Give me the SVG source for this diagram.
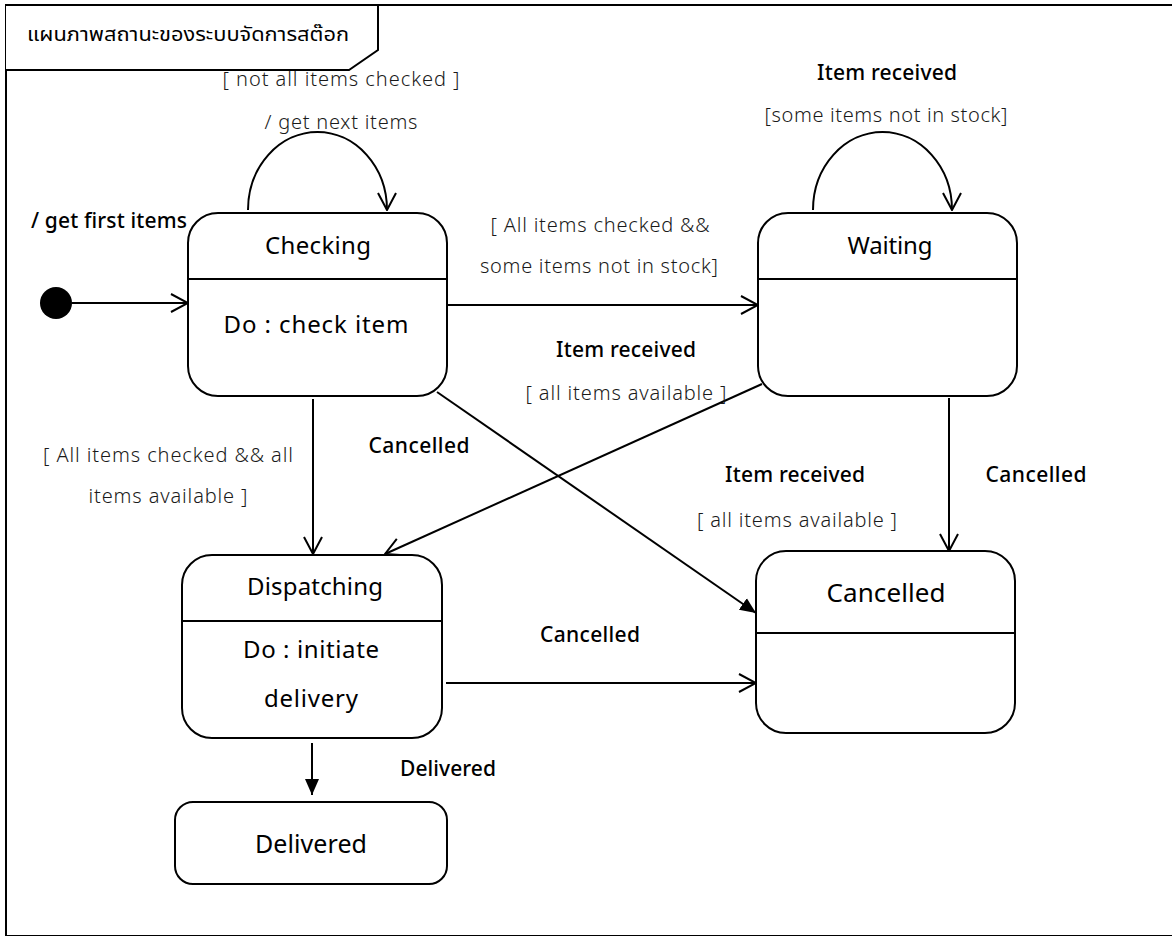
<svg xmlns="http://www.w3.org/2000/svg" width="1172" height="936" viewBox="0 0 1172 936">
<defs>
<marker id="open" viewBox="0 0 20 20" refX="19" refY="10" markerWidth="20" markerHeight="20" markerUnits="userSpaceOnUse" orient="auto">
<path d="M2,1 L19,10 L2,19" fill="none" stroke="#000" stroke-width="2"/>
</marker>
<marker id="filled" viewBox="0 0 16 16" refX="16" refY="8" markerWidth="16" markerHeight="16" markerUnits="userSpaceOnUse" orient="auto">
<path d="M0,1 L16,8 L0,15 z" fill="#000"/>
</marker>
<style>
.box{fill:#fff;stroke:#000;stroke-width:2}
.ln{fill:none;stroke:#000;stroke-width:2}
.t{font-family:"Noto Sans","Open Sans","DejaVu Sans",sans-serif;font-weight:400;fill:#000;text-anchor:middle}
.g{font-family:"Noto Sans","Open Sans","DejaVu Sans",sans-serif;font-weight:300;fill:#1a1a1a;text-anchor:middle;font-size:20px}
.lb{font-size:21px;font-weight:500}
.nt{font-size:24px}
</style>
</defs>
<rect x="6" y="5" width="1180" height="931" fill="#fff" stroke="#000" stroke-width="2"/>
<g id="frame-title">
<path d="M6,5 H378 V50 L349,70 H6" fill="#fff" stroke="#000" stroke-width="2"/>
<text x="27" y="41" font-family="'Noto Sans Thai','Noto Sans','DejaVu Sans',sans-serif" font-size="19" textLength="322" lengthAdjust="spacingAndGlyphs">แผนภาพสถานะของระบบจัดการสต๊อก</text>
</g>
<g id="connectors">
<path class="ln" d="M72,303 H188" marker-end="url(#open)"/>
<path class="ln" d="M248,210 A69.5,78 0 0 1 387,210" marker-end="url(#open)"/>
<path class="ln" d="M813,210 A69.5,78 0 0 1 952,210" marker-end="url(#open)"/>
<path class="ln" d="M447,305 H758" marker-end="url(#open)"/>
<path class="ln" d="M313,399 V554" marker-end="url(#open)"/>
<path class="ln" d="M762,384 L385,554" marker-end="url(#open)"/>
<path class="ln" d="M437,392 L756,613" marker-end="url(#filled)"/>
<path class="ln" d="M949,398 V551" marker-end="url(#open)"/>
<path class="ln" d="M446,683 H756" marker-end="url(#open)"/>
<path class="ln" d="M312,743 V795" marker-end="url(#filled)"/>
</g>
<g id="labels">
<text class="t lb" x="109" y="228" textLength="156">/ get first items</text>
<text class="g" x="341" y="86" textLength="237">[ not all items checked ]</text>
<text class="g" x="341" y="129" textLength="153">/ get next items</text>
<text class="t lb" x="887" y="80" textLength="140">Item received</text>
<text class="g" x="886" y="122" textLength="243">[some items not in stock]</text>
<text class="g" x="600" y="232" textLength="219">[ All items checked &amp;&amp;</text>
<text class="g" x="599" y="273" textLength="238">some items not in stock]</text>
<text class="t lb" x="626" y="357" textLength="140">Item received</text>
<text class="g" x="626" y="400" textLength="201">[ all items available ]</text>
<text class="g" x="168" y="462" textLength="250">[ All items checked &amp;&amp; all</text>
<text class="g" x="168" y="503" textLength="159">items available ]</text>
<text class="t lb" x="419" y="453" textLength="101">Cancelled</text>
<text class="t lb" x="795" y="482" textLength="140">Item received</text>
<text class="g" x="797" y="527" textLength="200">[ all items available ]</text>
<text class="t lb" x="1036" y="482" textLength="101">Cancelled</text>
<text class="t lb" x="590" y="642" textLength="100">Cancelled</text>
<text class="t lb" x="448" y="776" textLength="96">Delivered</text>
</g>
<g id="initial">
<circle cx="56" cy="303" r="16" fill="#000"/>
</g>
<g id="checking">
<rect class="box" x="188" y="213" width="259" height="183" rx="30"/>
<line class="ln" x1="188" y1="279" x2="447" y2="279"/>
<text class="t nt" x="318" y="254" textLength="106">Checking</text>
<text class="t nt" x="316" y="333" textLength="185">Do : check item</text>
</g>
<g id="waiting">
<rect class="box" x="758" y="213" width="259" height="183" rx="30"/>
<line class="ln" x1="758" y1="279" x2="1017" y2="279"/>
<text class="t nt" x="890" y="254" textLength="85">Waiting</text>
</g>
<g id="dispatching">
<rect class="box" x="182" y="555" width="260" height="183" rx="30"/>
<line class="ln" x1="182" y1="621" x2="442" y2="621"/>
<text class="t nt" x="315" y="595" textLength="136">Dispatching</text>
<text class="t nt" x="311" y="658" textLength="136">Do : initiate</text>
<text class="t nt" x="311" y="707" textLength="94">delivery</text>
</g>
<g id="cancelled">
<rect class="box" x="756" y="551" width="259" height="182" rx="30"/>
<line class="ln" x1="756" y1="633" x2="1015" y2="633"/>
<text class="t" x="886" y="602" font-size="26" textLength="119">Cancelled</text>
</g>
<g id="delivered">
<rect class="box" x="175" y="802" width="272" height="82" rx="18"/>
<text class="t" x="311" y="853" font-size="25" textLength="112">Delivered</text>
</g>
</svg>
